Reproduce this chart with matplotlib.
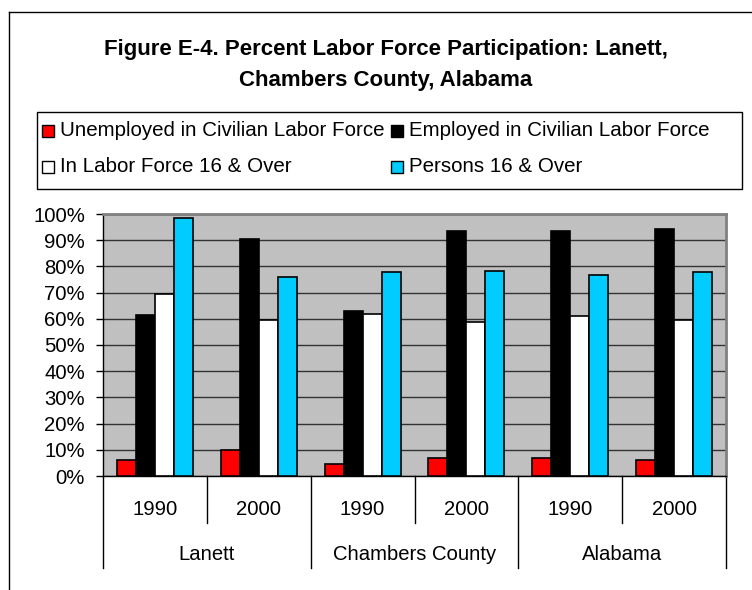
import matplotlib
matplotlib.use("Agg")
import matplotlib.pyplot as plt
import numpy as np
from matplotlib.lines import Line2D
from matplotlib.patches import Rectangle

plt.rcParams['font.family'] = ['Liberation Sans', 'DejaVu Sans']

places = ['Lanett', 'Chambers County', 'Alabama']
years = ['1990', '2000', '1990', '2000', '1990', '2000']

series = ['Unemployed in Civilian Labor Force', 'Employed in Civilian Labor Force',
          'In Labor Force 16 & Over', 'Persons 16 & Over']
colors = ['#ff0000', '#000000', '#ffffff', '#00ccff']

unemployed = [6.1, 9.8, 4.6, 6.9, 6.9, 6.1]
employed = [61.4, 90.3, 62.8, 93.5, 93.5, 94.1]
labor_force = [69.3, 59.7, 61.9, 58.9, 61.1, 59.6]
persons = [98.3, 76.0, 77.7, 78.4, 76.9, 77.7]
values = [unemployed, employed, labor_force, persons]

W, H = 752, 590
fig = plt.figure(figsize=(W / 100, H / 100), dpi=100)


def fx(px):
    return px / W


def fy(py):
    return 1 - py / H


# outer chart frame (left and top edges)
fig.add_artist(Line2D([fx(9), fx(9)], [0, fy(12)], color='black', lw=1))
fig.add_artist(Line2D([fx(9), 1], [fy(12), fy(12)], color='black', lw=1))

fig.text(fx(386), fy(49), 'Figure E-4. Percent Labor Force Participation: Lanett,',
         ha='center', va='center', fontsize=16, fontweight='bold')
fig.text(fx(386), fy(81), 'Chambers County, Alabama',
         ha='center', va='center', fontsize=16, fontweight='bold')

# legend box
fig.add_artist(Rectangle((fx(37), fy(189)), fx(742 - 37), (189 - 112) / H,
                         transform=fig.transFigure, fill=False, ec='black', lw=1))
leg_pos = [(42, 131), (391, 131), (42, 167), (391, 167)]
for (lx, ly), name, c in zip(leg_pos, series, colors):
    fig.add_artist(Rectangle((fx(lx), fy(ly + 6)), fx(12), 12 / H,
                             transform=fig.transFigure, fc=c, ec='black', lw=1))
    fig.text(fx(lx + 18), fy(ly), name, ha='left', va='center', fontsize=14.8)

ax = fig.add_axes([fx(103), fy(476), fx(726 - 103), (476 - 214) / H])
ax.set_facecolor('#c0c0c0')

x = np.arange(len(years))
bw = 0.183
for i, (vals, c) in enumerate(zip(values, colors)):
    ax.bar(x + (i - 1.5) * bw, vals, width=bw, color=c, edgecolor='black',
           linewidth=1.2, zorder=3)

ax.set_xlim(-0.5, len(years) - 0.5)
ax.set_ylim(0, 100)
ax.set_yticks(np.arange(0, 101, 10))
ax.set_yticklabels([f'{v}%' for v in range(0, 101, 10)], fontsize=14.6)
ax.tick_params(axis='y', length=5, width=1, pad=8)
ax.set_xticks([])
ax.yaxis.grid(True, color='#333333', lw=1)
ax.set_axisbelow(True)

for side in ['top', 'right']:
    ax.spines[side].set_color('#808080')
    ax.spines[side].set_linewidth(2)
ax.spines['left'].set_linewidth(1)
ax.spines['bottom'].set_linewidth(1)

# two-level category axis under the plot
for b in [0.5, 2.5, 4.5]:
    ax.plot([b, b], [0, -0.179], transform=ax.get_xaxis_transform(),
            color='black', lw=1, clip_on=False)
for b in [-0.5, 1.5, 3.5, 5.5]:
    ax.plot([b, b], [0, -0.351], transform=ax.get_xaxis_transform(),
            color='black', lw=1, clip_on=False)
for xi, yr in zip(x, years):
    ax.text(xi, -0.128, yr, transform=ax.get_xaxis_transform(),
            ha='center', va='center', fontsize=14.6)
for gi, name in enumerate(places):
    ax.text(2 * gi + 0.5, -0.30, name, transform=ax.get_xaxis_transform(),
            ha='center', va='center', fontsize=14.6)

fig.savefig('out.png', dpi=100)
